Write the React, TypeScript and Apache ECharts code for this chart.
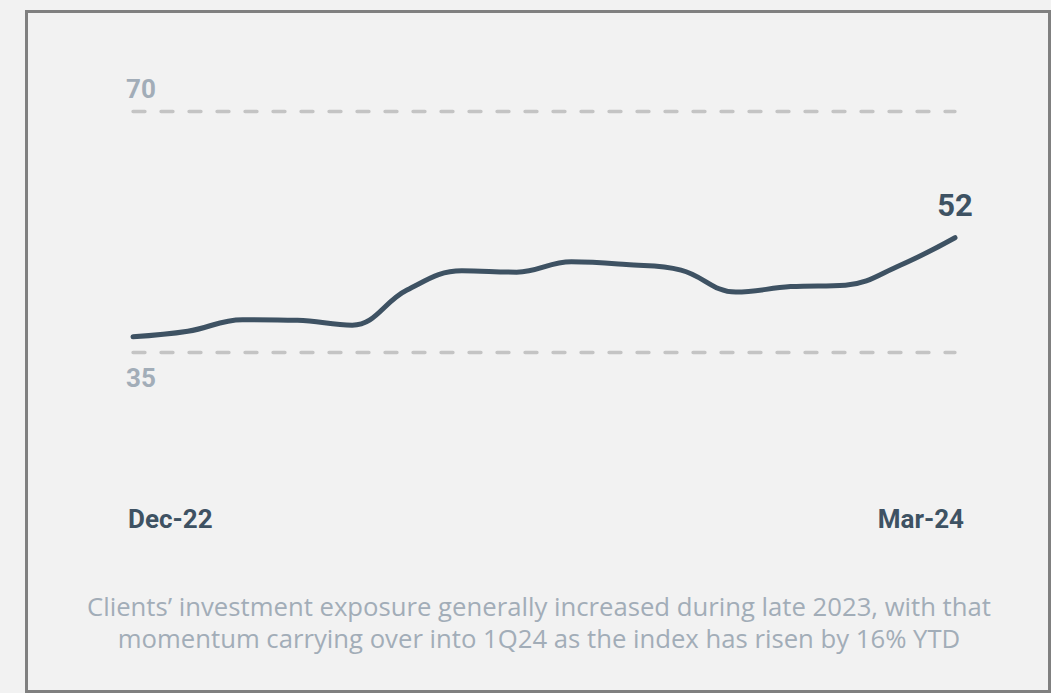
import React, { useEffect, useRef } from "react";
import * as echarts from "echarts";

const categories = [
  "Dec-22", "Jan-23", "Feb-23", "Mar-23", "Apr-23", "May-23", "Jun-23", "Jul-23",
  "Aug-23", "Sep-23", "Oct-23", "Nov-23", "Dec-23", "Jan-24", "Feb-24", "Mar-24",
];
const indexValues = [
  37.2, 38.0, 39.7, 39.6, 38.9, 44.0, 46.8, 46.6,
  48.1, 47.7, 46.9, 43.7, 44.5, 44.7, 47.6, 51.6,
];
const yTicks = [35, 70];
const shownXLabels = ["Dec-22", "Mar-24"];
const caption =
  "Clients\u2019 investment exposure generally increased during late 2023, with that\nmomentum carrying over into 1Q24 as the index has risen by 16% YTD";

const DARK = "#3e5263";
const LIGHT = "#a2adb8";
const BOLD_FONT = "Roboto, Arial, sans-serif";

export default function App() {
  const ref = useRef<HTMLDivElement>(null);
  useEffect(() => {
    if (!ref.current) return;
    const chart = echarts.init(ref.current, null, { renderer: "svg" });
    const last = indexValues.length - 1;
    const xLabelStyle = { color: DARK, fontFamily: BOLD_FONT, fontWeight: "bold", fontSize: 26 };
    chart.setOption({
      animation: false,
      backgroundColor: "#f2f2f2",
      grid: { left: 133, right: 96, top: 111, bottom: 341, containLabel: false },
      xAxis: {
        type: "category",
        data: categories,
        boundaryGap: false,
        axisLine: { show: false },
        axisTick: { show: false },
        splitLine: { show: false },
        axisLabel: {
          interval: 0,
          margin: 154,
          alignMinLabel: "left",
          alignMaxLabel: "right",
          formatter: (v: string) =>
            v === shownXLabels[0]
              ? `{first|${v}}`
              : v === shownXLabels[1]
              ? `{lastl|${v}}`
              : "",
          rich: {
            first: { ...xLabelStyle, padding: [0, 0, 0, -5] },
            lastl: { ...xLabelStyle, padding: [0, -9, 0, 0] },
          },
          ...xLabelStyle,
        },
      },
      yAxis: {
        type: "value",
        min: yTicks[0],
        max: yTicks[1],
        interval: yTicks[1] - yTicks[0],
        axisLine: { show: false },
        axisTick: { show: false },
        splitLine: {
          show: true,
          lineStyle: { color: "#c4c4c4", width: 3.3, type: [12, 16], cap: "round" },
        },
        axisLabel: {
          align: "left",
          margin: 7,
          formatter: (v: number) => (v === yTicks[1] ? `{top|${v}}` : `{bot|${v}}`),
          rich: {
            top: {
              color: LIGHT, fontFamily: BOLD_FONT, fontWeight: "bold",
              fontSize: 26, padding: [0, 0, 44, 0],
            },
            bot: {
              color: LIGHT, fontFamily: BOLD_FONT, fontWeight: "bold",
              fontSize: 26, padding: [52, 0, 0, 0],
            },
          },
        },
      },
      series: [
        {
          type: "line",
          smooth: 0.4,
          symbol: "circle",
          symbolSize: 1,
          showSymbol: true,
          showAllSymbol: true,
          itemStyle: { color: DARK },
          lineStyle: { color: DARK, width: 5, cap: "round", join: "round" },
          data: indexValues.map((v, i) =>
            i === last
              ? {
                  value: v,
                  label: {
                    show: true,
                    position: "top",
                    distance: 16,
                    formatter: () => String(Math.round(v)),
                    color: DARK,
                    fontFamily: BOLD_FONT,
                    fontWeight: "bold",
                    fontSize: 31,
                  },
                }
              : v
          ),
        },
      ],
      graphic: [
        {
          type: "rect",
          shape: { x: 26.5, y: 11.5, width: 1023, height: 680 },
          style: { fill: "none", stroke: "#808080", lineWidth: 3 },
          silent: true,
        },
        {
          type: "text",
          x: 539,
          y: 622,
          style: {
            text: caption,
            fill: LIGHT,
            fontFamily: "'Open Sans', sans-serif",
            fontSize: 25.7,
            lineHeight: 32,
            align: "center",
            verticalAlign: "middle",
          },
          silent: true,
        },
      ],
    });
    return () => chart.dispose();
  }, []);
  return (
    <div
      ref={ref}
      style={{ position: "fixed", left: 0, top: 0, width: 1051, height: 693 }}
    />
  );
}
